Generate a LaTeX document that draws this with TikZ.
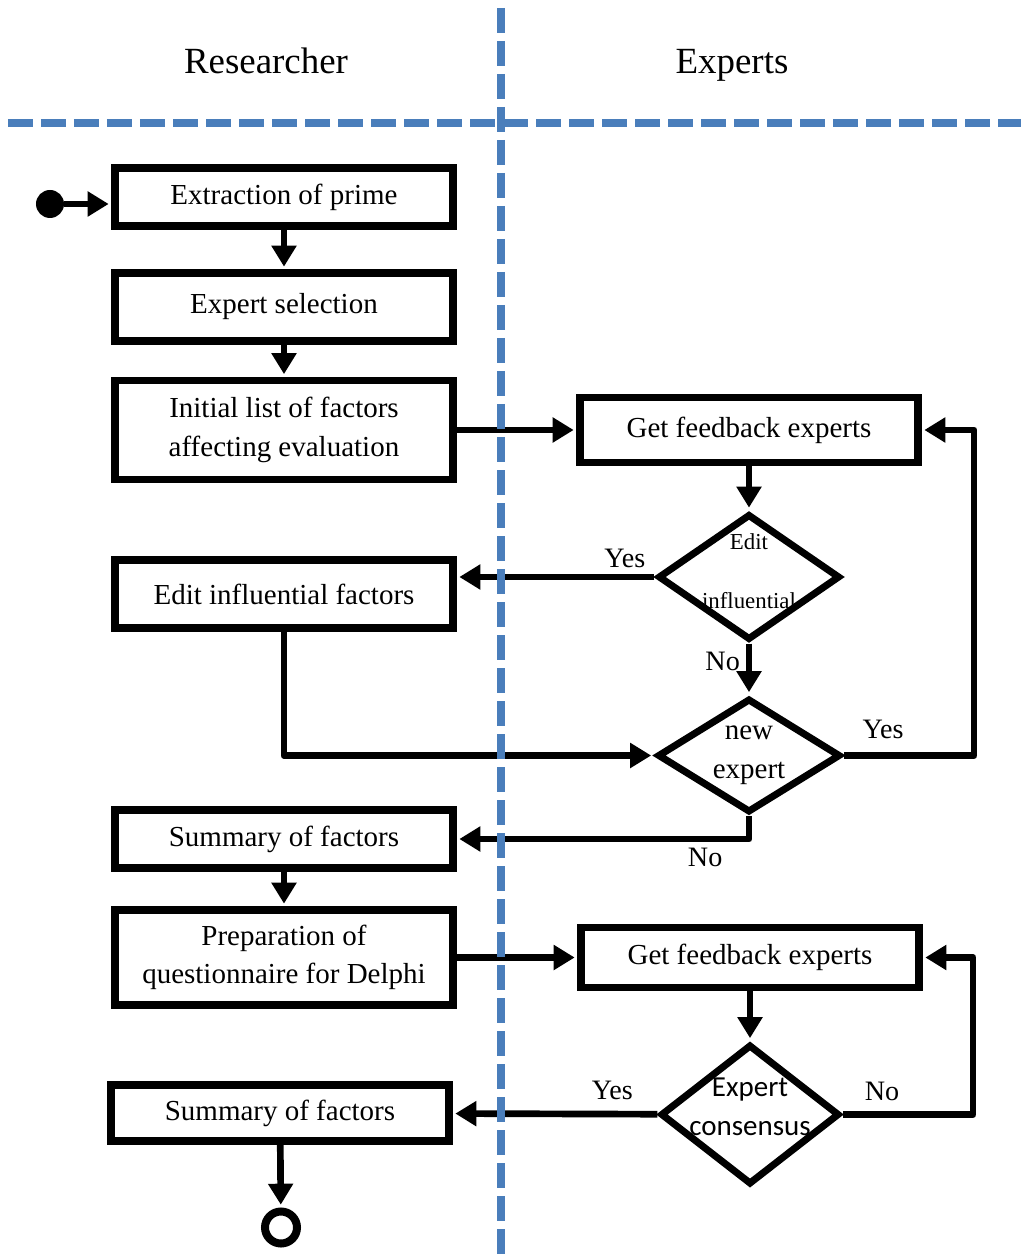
\documentclass[tikz,border=0pt]{standalone}
\usepackage{fontspec}
\setmainfont{Liberation Serif}
\newfontfamily\calibri{Carlito}
\usetikzlibrary{shapes.geometric, arrows.meta}
\definecolor{laneblue}{RGB}{74,126,187}
\tikzstyle{process} = [rectangle, minimum width=6.76cm, minimum height=1.16cm, text centered, align=center, draw=black, line width=4pt, font=\fontsize{16.5}{22}\selectfont]
\tikzstyle{decision} = [diamond, minimum width=3.64cm, minimum height=2.52cm, inner sep=0pt, draw=black, line width=4pt]
\tikzstyle{arrow} = [line width=3.8pt, line join=round, shorten >=1.6pt, -{Triangle[length=0.42cm,width=0.48cm]}]
\tikzstyle{lane} = [laneblue, line width=4pt, dash pattern=on 0.5cm off 0.16cm]
\tikzstyle{lanehead} = [anchor=base, font=\fontsize{21}{25}\selectfont]
\tikzstyle{answer} = [font=\fontsize{16}{19}\selectfont]

\begin{document}
\begin{tikzpicture}[node distance=2cm]
\useasboundingbox (-5.68,3.94) rectangle (14.74,-21.24);

\node (hres) [lanehead] at (-0.36,2.46) {Researcher};
\node (hexp) [lanehead] at (8.96,2.46) {Experts};

\node (extract) [process] {Extraction of prime};
\node (select) [process, below of=extract, yshift=-0.2cm, minimum height=1.36cm] {Expert selection};
\node (initial) [process, below of=select, yshift=-0.46cm, minimum height=1.98cm] {Initial list of factors\\affecting evaluation};
\node (editf) [process, below of=initial, yshift=-1.28cm, minimum height=1.36cm] {Edit influential factors};
\node (summ1) [process, below of=editf, yshift=-2.9cm] {Summary of factors};
\node (prep) [process, below of=summ1, yshift=-0.37cm, minimum height=1.9cm] {Preparation of\\questionnaire for Delphi};
\node (summ2) [process, below of=prep, yshift=-1.11cm, xshift=-0.08cm, minimum height=1.12cm] {Summary of factors};

\node (fb1) [process, right of=initial, xshift=7.3cm, minimum height=1.3cm] {Get feedback experts};
\node (dia1) [decision, below of=fb1, yshift=-0.94cm] {};
\node (dia2) [decision, below of=dia1, yshift=-1.57cm, minimum width=3.66cm, minimum height=2.28cm] {};
\node (fb2) [process, right of=prep, xshift=7.32cm, minimum height=1.2cm] {Get feedback experts};
\node (dia3) [decision, below of=fb2, yshift=-1.14cm, minimum width=3.58cm, minimum height=2.8cm] {};

\node (dia1txt) [font=\fontsize{13}{15}\selectfont, align=center, yshift=0.12cm] at (dia1) {Edit\\[0.65cm]influential};
\node (dia2txt) [font=\fontsize{16.5}{22}\selectfont, align=center] at (dia2) {new\\expert};
\node (dia3txt) [font=\calibri\fontsize{16.5}{22}\selectfont, align=center, yshift=0.16cm] at (dia3) {Expert\\consensus};

\node (init) [circle, fill=black, minimum size=0.56cm, inner sep=0pt, left of=extract, xshift=-2.68cm, yshift=-0.14cm] {};
\node (final) [circle, draw=black, line width=0.16cm, minimum size=0.64cm, inner sep=0pt, below of=summ2, yshift=-0.29cm, xshift=0.02cm] {};

\draw [arrow] (init) -- (init -| extract.west);
\draw [arrow] (extract) -- (select);
\draw [arrow] (select) -- (initial);
\draw [arrow] (initial.east) -- (initial.east -| fb1.west);
\draw [arrow] (fb1) -- (dia1);
\draw [arrow] (dia1.west) -- node[answer, above, pos=0.15] {Yes} (dia1.west -| editf.east);
\draw [arrow] (dia1) -- node[answer, left, pos=0.35] {No} (dia2);
\draw [arrow] (editf.south) |- (dia2.west);
\draw [arrow] (dia2.east) -- node[answer, above, pos=0.3, yshift=0.15cm] {Yes} ++(2.6,0) |- (fb1.east);
\draw [arrow] (dia2.south) |- node[answer, below, pos=0.575] {No} (summ1.east);
\draw [arrow] (summ1) -- (prep);
\draw [arrow] (prep) -- (fb2);
\draw [arrow] (fb2) -- (dia3);
\draw [arrow] (dia3) -- node[answer, above, pos=0.22, yshift=0.1cm] {Yes} (summ2);
\draw [arrow] (dia3.east) -- node[answer, above, pos=0.3, yshift=0.1cm] {No} ++(2.6,0) |- (fb2.east);
\draw [arrow] (summ2) -- (final);

% swimlane separators
\draw [lane] (4.34,3.78) -- (4.34,-21.24);
\draw [lane] (-5.52,1.48) -- (14.74,1.48);

\end{tikzpicture}
\end{document}
